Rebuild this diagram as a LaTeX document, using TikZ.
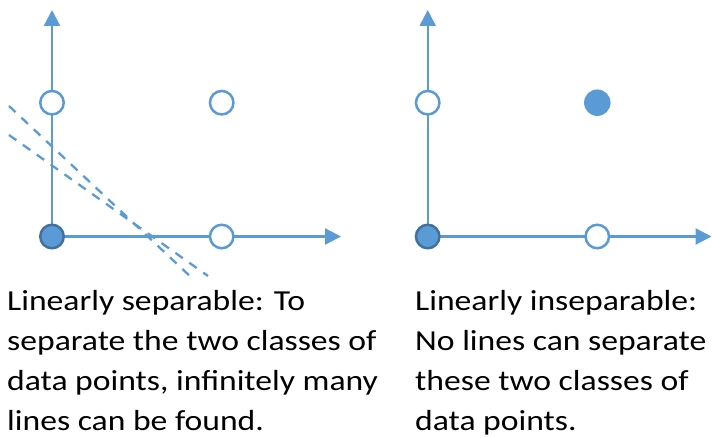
\documentclass[tikz,border=0pt]{standalone}
\usepackage{fontspec}
\setmainfont[FakeStretch=1.16]{Carlito}
\usetikzlibrary{arrows.meta}
\definecolor{ablue}{HTML}{5B9BD5}
\definecolor{dblue}{HTML}{41719C}
\begin{document}
\begin{tikzpicture}[x=1pt,y=-1pt,
  axis/.style={draw=ablue,line width=2.3pt,-{Triangle[length=16pt,width=16pt]}},
  sepline/.style={draw=ablue,line width=2.3pt,dash pattern=on 9pt off 8pt},
  hollow/.style={circle,draw=ablue,fill=white,line width=2.5pt,minimum size=23.5pt,inner sep=0pt},
  solidpt/.style={circle,draw=dblue,fill=ablue,line width=2.5pt,minimum size=23.5pt,inner sep=0pt},
  plainpt/.style={circle,fill=ablue,minimum size=26.5pt,inner sep=0pt},
  txt/.style={anchor=base west,inner sep=0pt,font=\fontsize{29pt}{40pt}\selectfont}]
\useasboundingbox (0,0) rectangle (712,438);
% left plot
\coordinate (lo) at (52,236.5);
\coordinate (lytip) at (52,10);
\coordinate (lxtip) at (341,236.5);
\draw[axis] (lo) -- (lytip);
\draw[axis] (lo) -- (lxtip);
\coordinate (d1s) at (9,106);
\coordinate (d1e) at (193,279);
\coordinate (d2s) at (9,135);
\coordinate (d2e) at (208,276);
\draw[sepline] (d1s) -- (d1e);
\draw[sepline] (d2s) -- (d2e);
\node[solidpt] (l00) at (lo) {};
\node[hollow] (l01) at (52,102.7) {};
\node[hollow] (l11) at (221.7,102.7) {};
\node[hollow] (l10) at (221.7,236.5) {};
% right plot
\coordinate (ro) at (427.7,236.5);
\coordinate (rytip) at (427.7,10);
\coordinate (rxtip) at (711.5,236.5);
\draw[axis] (ro) -- (rytip);
\draw[axis] (ro) -- (rxtip);
\node[solidpt] (r00) at (ro) {};
\node[hollow] (r01) at (427.7,102.7) {};
\node[plainpt] (r11) at (597.3,102.7) {};
\node[hollow] (r10) at (597.3,236.5) {};
% texts
\node[txt] (tl1) at (7,310) {Linearly separable: To};
\node[txt] (tl2) at (7,350) {separate the two classes of};
\node[txt] (tl3) at (7,390) {data points, infinitely many};
\node[txt] (tl4) at (7,430) {lines can be found.};
\node[txt] (tr1) at (415,310) {Linearly inseparable:};
\node[txt] (tr2) at (415,350) {No lines can separate};
\node[txt] (tr3) at (415,390) {these two classes of};
\node[txt] (tr4) at (415,430) {data points.};
\end{tikzpicture}
\end{document}
